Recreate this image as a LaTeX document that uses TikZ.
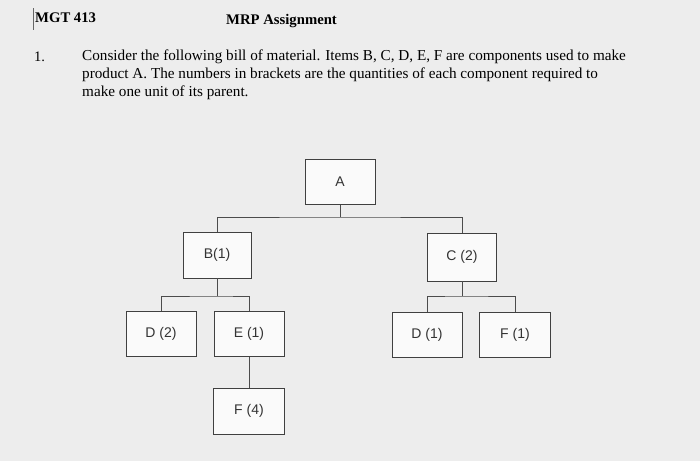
\documentclass[tikz,border=0pt]{standalone}
\usepackage{fontspec}
\setmainfont{Liberation Serif}
\newfontfamily\boxfont{Liberation Sans}
\begin{document}
\begin{tikzpicture}[x=1pt,y=-1pt,
  bom/.style={draw=black!75,line width=0.8pt,fill=white!96!gray,minimum width=70pt,minimum height=45pt,font=\boxfont\fontsize{14}{16}\selectfont,text=black!80},
  link/.style={draw=black!70,line width=0.8pt}]
\fill[black!7] (0,0) rectangle (700,461);
\useasboundingbox (0,0) rectangle (700,461);
\draw[black!60,line width=0.6pt] (33,8) -- (33,30);
\node[anchor=west,font=\bfseries\fontsize{14.7}{16}\selectfont,inner sep=0pt] (h1) at (35,18) {MGT 413};
\node[anchor=west,font=\bfseries\fontsize{14.7}{16}\selectfont,inner sep=0pt] (h2) at (226,21) {MRP Assignment};
\node[anchor=west,font=\fontsize{14.5}{16}\selectfont,inner sep=0pt] (n1) at (34,57) {1.};
\node[anchor=north west,align=left,font=\fontsize{15.2}{18}\selectfont,inner sep=0pt] (p) at (82,50)
 {Consider the following bill of material. Items B, C, D, E, F are components used to make\\
  product A. The numbers in brackets are the quantities of each component required to\\
  make one unit of its parent.};
\node[bom] (A) at (340,182) {A};
\node[bom,minimum width=68pt,minimum height=46pt] (B) at (217,255) {B(1)};
\node[bom,minimum width=69pt,minimum height=48pt] (C) at (462,257) {C (2)};
\node[bom] (D2) at (161,334) {D (2)};
\node[bom] (E) at (249,334) {E (1)};
\node[bom] (D1) at (427,335) {D (1)};
\node[bom,minimum width=71pt] (F1) at (515,335) {F (1)};
\node[bom,minimum width=71pt,minimum height=46pt] (F4) at (249,411) {F (4)};
\coordinate (j1) at (340,217);
\draw[link] (A.south) -- (j1);
\draw[link] (B.north) |- (j1) -| (C.north);
\coordinate (j2) at (217,296);
\draw[link] (B.south) -- (j2);
\draw[link] (D2.north) |- (j2) -| (E.north);
\draw[link] (E.south) -- (F4.north);
\coordinate (j3) at (462,296);
\draw[link] (C.south) -- (j3);
\draw[link] (D1.north) |- (j3) -| (F1.north);
\end{tikzpicture}
\end{document}
